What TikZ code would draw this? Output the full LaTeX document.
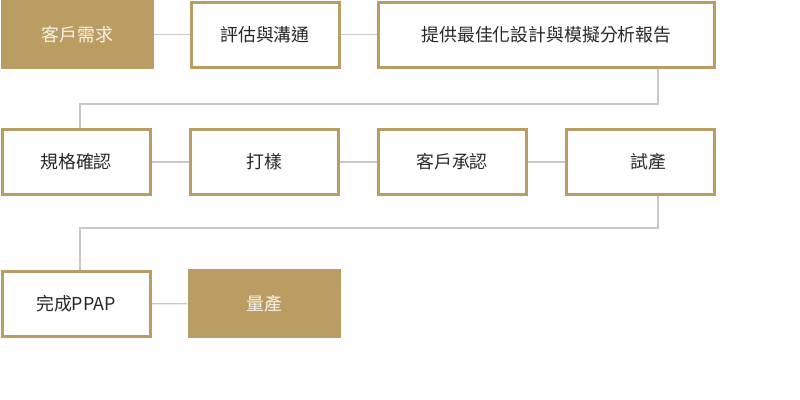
\documentclass[tikz,border=0pt]{standalone}
\usepackage{fontspec}
\setmainfont{Noto Sans CJK TC}
\usepackage{xcolor}
\definecolor{gold}{RGB}{186,157,98}
\definecolor{linkgray}{RGB}{200,200,200}
\definecolor{txtdark}{RGB}{40,40,40}
\definecolor{txtlight}{RGB}{248,243,232}

\begin{document}
\begin{tikzpicture}[x=0.75pt,y=0.75pt,yscale=-1,xscale=1,
    stepbox/.style={draw=gold,line width=2.25pt,fill=white,text=txtdark,minimum width=111pt,minimum height=48.75pt,inner sep=0pt,font=\fontsize{13.4}{15}\selectfont},
    goldbox/.style={fill=gold,draw=none,text=txtlight,minimum width=114.75pt,minimum height=51.75pt,inner sep=0pt,font=\fontsize{13.4}{15}\selectfont},
    link/.style={draw=linkgray,line width=1pt}]
        \useasboundingbox (0,0) rectangle (800,400);
        
        % Elbow points
        \coordinate (k1) at (658,104);
        \coordinate (k2) at (80,104);
        \coordinate (k3) at (658,228);
        \coordinate (k4) at (80,228);
        
        %Shape: Rectangle, row 1
        \node [goldbox] (need) at (77.5,34.5) {客戶需求};
        \node [stepbox] (eval) at (265,34.5) {評估與溝通};
        \node [stepbox,minimum width=252pt] (report) at (546.5,34.5) {提供最佳化設計與模擬分析報告};
        %Shape: Rectangle, row 2
        \node [stepbox] (spec) at (76,162) {規格確認};
        \node [stepbox] (sample) at (264.5,162) {打樣};
        \node [stepbox] (approve) at (452,162) {客戶承認};
        \node [stepbox] (trial) at (640.5,162) {\hspace{12pt}試產};
        %Shape: Rectangle, row 3
        \node [stepbox] (ppap) at (76,304) {完成PPAP};
        \node [goldbox] (mass) at (264,303.5) {量產};
        
        % Connectors
        \draw [link] (need) -- (eval);
        \draw [link] (eval) -- (report);
        \draw [link] (report.south -| k1) -- (k1) -- (k2) -- (spec.north -| k2);
        \draw [link] (spec) -- (sample);
        \draw [link] (sample) -- (approve);
        \draw [link] (approve) -- (trial);
        \draw [link] (trial.south -| k3) -- (k3) -- (k4) -- (ppap.north -| k4);
        \draw [link] (ppap) -- (mass);
        
        \end{tikzpicture}
\end{document}
